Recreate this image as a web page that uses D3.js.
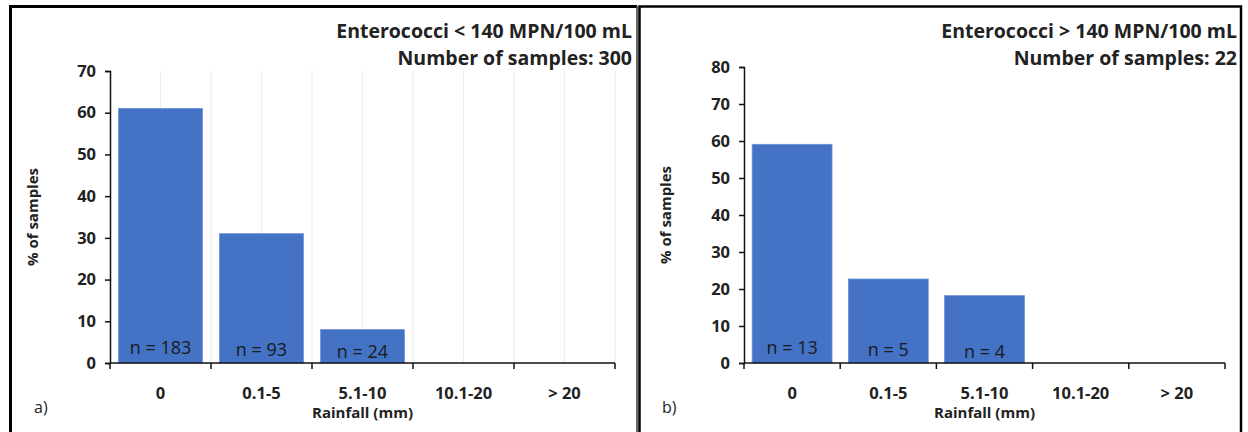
<!DOCTYPE html>
<html>
  <head>
    <meta charset="UTF-8" />
    <title>Enterococci vs rainfall</title>
    <script src="https://d3js.org/d3.v7.min.js"></script>
    <style>
      body { margin: 0; background: #fff; }
      svg { display: block; font-family: "Open Sans", sans-serif; }
      .tick text { font-family: "Open Sans", sans-serif; font-size: 16.5px; font-weight: 700; fill: #222; }
      .axis-title { font-size: 15px; font-weight: 700; fill: #222; }
      .chart-title { font-size: 19.5px; font-weight: 700; fill: #222; }
      .nlabel { font-size: 18px; fill: #1a1a1a; }
      .panel-letter { font-size: 16px; fill: #222; }
    </style>
  </head>
  <body>
    <svg id="chart" width="1248" height="432"></svg>
    <script>
      // rainfall classes
      const categories = ["0", "0.1-5", "5.1-10", "10.1-20", "> 20"];

      // a) Enterococci < 140 MPN/100 mL (300 samples)
      const lowPercent = [61, 31, 8, 0, 0];
      const lowCounts = ["n = 183", "n = 93", "n = 24", null, null];

      // b) Enterococci > 140 MPN/100 mL (22 samples)
      const highPercent = [59.1, 22.7, 18.2, 0, 0];
      const highCounts = ["n = 13", "n = 5", "n = 4", null, null];

      const svg = d3.select("#chart");

      // panel frames
      svg.append("path")
        .attr("d", "M10.5,432 V6.5 H637")
        .attr("fill", "none").attr("stroke", "#000").attr("stroke-width", 3);
      svg.append("line")
        .attr("x1", 637).attr("x2", 637).attr("y1", 6).attr("y2", 432)
        .attr("stroke", "#333").attr("stroke-width", 1.5);
      svg.append("path")
        .attr("d", "M639.5,432 V6.5 H1241 V432")
        .attr("fill", "none").attr("stroke", "#000").attr("stroke-width", 2.5);

      const panels = [
        {
          values: lowPercent, counts: lowCounts, yMax: 70,
          x0: 110, x1: 615, yTop: 71, yBottom: 363, grid: true,
          title: ["Enterococci < 140 MPN/100 mL", "Number of samples: 300"],
          titleX: 632, letter: "a)", letterX: 34, yTitleX: 38
        },
        {
          values: highPercent, counts: highCounts, yMax: 80,
          x0: 744, x1: 1225, yTop: 67, yBottom: 363, grid: false,
          title: ["Enterococci > 140 MPN/100 mL", "Number of samples: 22"],
          titleX: 1237, letter: "b)", letterX: 662, yTitleX: 671
        }
      ];

      panels.forEach((p) => {
        const g = svg.append("g");

        const x = d3.scaleBand()
          .domain(categories)
          .range([p.x0, p.x1])
          .paddingInner(0.17)
          .paddingOuter(0.085);

        const y = d3.scaleLinear()
          .domain([0, p.yMax])
          .range([p.yBottom, p.yTop]);

        // light vertical gridlines at category centres and edges
        if (p.grid) {
          const step = x.step() / 2;
          const gx = d3.range(1, categories.length * 2 + 1).map((i) => p.x0 + i * step);
          g.selectAll(".grid")
            .data(gx)
            .join("line")
            .attr("x1", (d) => d).attr("x2", (d) => d)
            .attr("y1", p.yTop).attr("y2", p.yBottom)
            .attr("stroke", "#ececec").attr("stroke-width", 1);
        }

        // bars
        g.selectAll(".bar")
          .data(p.values)
          .join("rect")
          .attr("x", (d, i) => x(categories[i]))
          .attr("y", (d) => y(d))
          .attr("width", x.bandwidth())
          .attr("height", (d) => y(0) - y(d))
          .attr("fill", "#4472c4")
          .attr("stroke", "#6a90d6")
          .attr("stroke-width", 0.8);

        // n = labels inside bars
        g.selectAll(".nlabel")
          .data(p.counts.filter((d) => d))
          .join("text")
          .attr("class", "nlabel")
          .attr("x", (d, i) => x(categories[i]) + x.bandwidth() / 2)
          .attr("y", (d, i) => y(0) - 9 + i * 2)
          .attr("text-anchor", "middle")
          .text((d) => d);

        // y axis
        const yAxis = g.append("g")
          .attr("transform", `translate(${p.x0},0)`)
          .call(d3.axisLeft(y).tickValues(d3.range(0, p.yMax + 1, 10)).tickSize(5).tickPadding(9));
        yAxis.select(".domain").attr("stroke", "#111").attr("stroke-width", 1.5);
        yAxis.selectAll(".tick line").attr("stroke", "#111").attr("stroke-width", 1.5);

        // x axis: ticks at band edges, labels at centres
        const xAxis = g.append("g").attr("transform", `translate(0,${p.yBottom})`);
        xAxis.append("line")
          .attr("x1", p.x0).attr("x2", p.x1)
          .attr("stroke", "#111").attr("stroke-width", 1.5);
        const edges = categories.map((c) => x(c) - x.step() * 0.085).concat([p.x1]);
        xAxis.selectAll(".edge")
          .data(edges)
          .join("line")
          .attr("x1", (d) => d).attr("x2", (d) => d)
          .attr("y1", 0).attr("y2", 6)
          .attr("stroke", "#111").attr("stroke-width", 1.5);
        xAxis.selectAll(".tick")
          .data(categories)
          .join("g")
          .attr("class", "tick")
          .append("text")
          .attr("x", (d) => x(d) + x.bandwidth() / 2)
          .attr("y", 36)
          .attr("text-anchor", "middle")
          .text((d) => d);

        // axis titles
        g.append("text")
          .attr("class", "axis-title")
          .attr("x", (p.x0 + p.x1) / 2)
          .attr("y", 418)
          .attr("text-anchor", "middle")
          .text("Rainfall (mm)");
        g.append("text")
          .attr("class", "axis-title")
          .attr("transform", `translate(${p.yTitleX},${(p.yTop + p.yBottom) / 2}) rotate(-90)`)
          .attr("text-anchor", "middle")
          .text("% of samples");

        // titles
        g.selectAll(".chart-title")
          .data(p.title)
          .join("text")
          .attr("class", "chart-title")
          .attr("x", p.titleX)
          .attr("y", (d, i) => 38 + i * 27)
          .attr("text-anchor", "end")
          .text((d) => d);

        g.append("text")
          .attr("class", "panel-letter")
          .attr("x", p.letterX)
          .attr("y", 413)
          .text(p.letter);
      });
    </script>
  </body>
</html>
